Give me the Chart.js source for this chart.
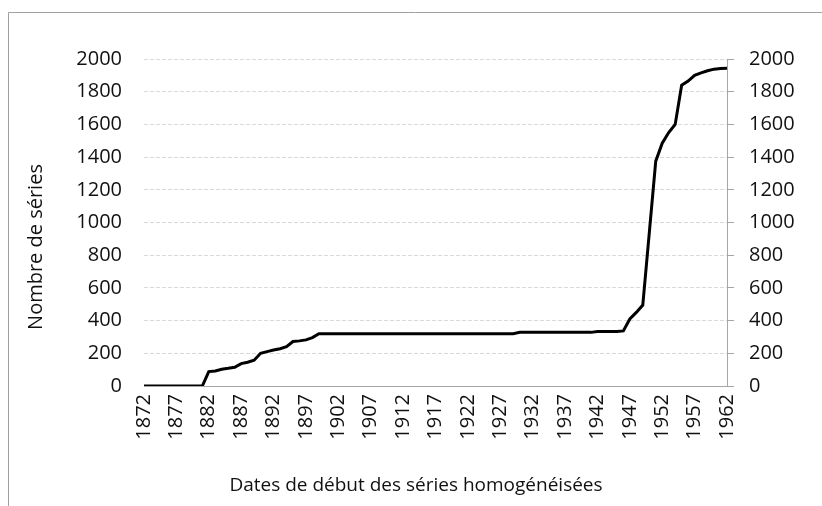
<!DOCTYPE html>
<html>
<head>
<meta charset="utf-8">
<script src="https://cdn.jsdelivr.net/npm/chart.js@4/dist/chart.umd.min.js"></script>
<style>
  html, body { margin: 0; padding: 0; background: #fff; }
  #wrap { position: relative; width: 822px; height: 506px; }
</style>
</head>
<body>
<div id="wrap"><canvas id="c" width="822" height="506"></canvas></div>
<script>
const years = [
  1872,1873,1874,1875,1876,1877,1878,1879,1880,1881,
  1882,1883,1884,1885,1886,1887,1888,1889,1890,1891,
  1892,1893,1894,1895,1896,1897,1898,1899,1900,1901,
  1902,1903,1904,1905,1906,1907,1908,1909,1910,1911,
  1912,1913,1914,1915,1916,1917,1918,1919,1920,1921,
  1922,1923,1924,1925,1926,1927,1928,1929,1930,1931,
  1932,1933,1934,1935,1936,1937,1938,1939,1940,1941,
  1942,1943,1944,1945,1946,1947,1948,1949,1950,1951,
  1952,1953,1954,1955,1956,1957,1958,1959,1960,1961,
  1962
];
const seriesCount = [
  0,0,0,0,0,0,0,0,0,0,
  88,92,102,108,115,137,145,158,200,210,
  220,228,240,272,276,282,296,320,320,320,
  320,320,320,320,320,320,320,320,320,320,
  320,320,320,320,320,320,320,320,320,320,
  320,320,320,320,320,320,320,320,328,328,
  328,328,328,328,328,328,328,328,328,328,
  333,333,333,333,337,410,450,495,935,1375,
  1485,1550,1600,1840,1865,1900,1915,1928,1938,1942,
  1943
];
const yTicks = [0,200,400,600,800,1000,1200,1400,1600,1800,2000];
const yTitle = "Nombre de séries";
const xTitle = "Dates de début des séries homogénéisées";

const FONT = "'Open Sans', sans-serif";
const TXT = '#111111';
const AXIS = '#a6a6a6';

const decor = {
  id: 'decor',
  afterDraw(chart) {
    const ctx = chart.ctx;
    ctx.save();
    // frame (top and left edges of the chart box)
    ctx.strokeStyle = '#a0a0a0';
    ctx.lineWidth = 1;
    ctx.beginPath();
    ctx.moveTo(8.5, 506);
    ctx.lineTo(8.5, 12.5);
    ctx.lineTo(822, 12.5);
    ctx.stroke();
    // titles
    ctx.fillStyle = TXT;
    ctx.font = "19px " + FONT;
    ctx.textAlign = 'center';
    ctx.textBaseline = 'middle';
    ctx.fillText(xTitle, 416, 486);
    ctx.font = "20px " + FONT;
    ctx.translate(36, 247);
    ctx.rotate(-Math.PI / 2);
    ctx.fillText(yTitle, 0, 0);
    ctx.restore();
  }
};

const numLabel = v => String(v);

new Chart(document.getElementById('c'), {
  type: 'line',
  data: {
    labels: years,
    datasets: [{
      data: seriesCount,
      borderColor: '#000',
      borderWidth: 3,
      pointRadius: 0,
      tension: 0,
      fill: false,
      yAxisID: 'y'
    }]
  },
  options: {
    responsive: false,
    animation: false,
    devicePixelRatio: 1,
    layout: { padding: { top: 59, left: 0, right: 0, bottom: 0 } },
    plugins: { legend: { display: false }, tooltip: { enabled: false } },
    scales: {
      x: {
        type: 'category',
        offset: false,
        grid: { display: false, drawTicks: false },
        border: { display: true, color: AXIS, width: 1 },
        ticks: {
          autoSkip: false,
          minRotation: 90,
          maxRotation: 90,
          padding: 8,
          color: TXT,
          font: { family: FONT, size: 20 },
          callback(value, index) { return index % 5 === 0 ? String(years[index]) : ''; }
        },
        afterFit(s) { s.height = 120; }
      },
      y: {
        position: 'left',
        min: 0, max: 2000,
        afterBuildTicks(s) { s.ticks = yTicks.map(v => ({ value: v })); },
        grid: { color: '#d9d9d9', lineWidth: 1, drawTicks: false },
        border: { display: false, dash: [4, 2] },
        ticks: { padding: 22, color: TXT, font: { family: FONT, size: 20 }, callback: numLabel },
        afterFit(s) { s.width = 144; }
      },
      y2: {
        position: 'right',
        min: 0, max: 2000,
        afterBuildTicks(s) { s.ticks = yTicks.map(v => ({ value: v })); },
        grid: { drawOnChartArea: false, drawTicks: true, tickLength: 7, tickColor: AXIS, color: AXIS },
        border: { display: true, color: AXIS, width: 1 },
        ticks: { padding: 15, color: TXT, font: { family: FONT, size: 20 }, callback: numLabel },
        afterFit(s) { s.width = 95; }
      }
    }
  },
  plugins: [decor]
});
</script>
</body>
</html>
